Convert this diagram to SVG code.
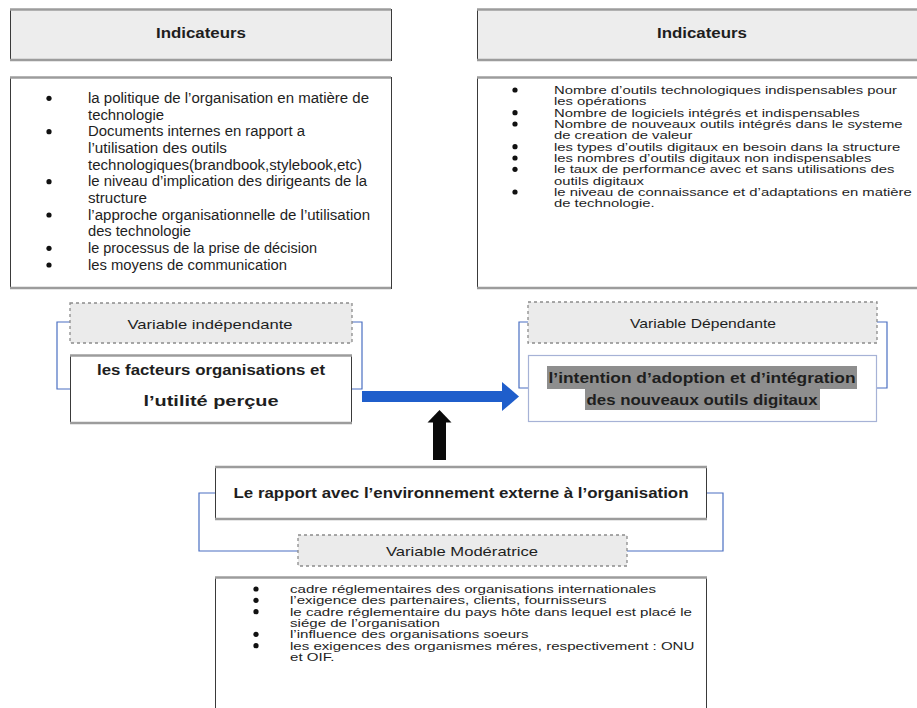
<svg xmlns="http://www.w3.org/2000/svg" width="917" height="708" viewBox="0 0 917 708">
<style>
text{font-family:"Liberation Sans",Arial,sans-serif;fill:#1e1e1e}
.b{font-weight:bold}
.f14{font-size:14px}
.f11{font-size:11px}
.f13{font-size:13px}
.f15{font-size:15px}
.m{text-anchor:middle}
.hdr{fill:#ededed;stroke:#3a3a3a;stroke-width:1}
.box{fill:#ffffff;stroke:#3a3a3a;stroke-width:1}
.sh{stroke:#9c9c9c;stroke-width:2.5;fill:none}
.dash{fill:#ebebeb;stroke:#8c8c8c;stroke-width:1.3;stroke-dasharray:3 3}
.brk{fill:none;stroke:#4a6fc2;stroke-width:1.2}
.bul{fill:#111}
.hl{fill:#8e8e8e}
</style>
<defs>
<circle id="dot" r="2.6" class="bul"/>
</defs>

<!-- connectors -->
<g id="connectors">
  <polyline class="brk" points="70,322 57,322 57,389 70,389"/>
  <polyline class="brk" points="352,322 362,322 362,389 352,389"/>
  <polyline class="brk" points="528,322 519,322 519,388 528,388"/>
  <polyline class="brk" points="877,322 887,322 887,388 877,388"/>
  <polyline class="brk" points="215,493 199,493 199,551 298,551"/>
  <polyline class="brk" points="707,493 723,493 723,551 627,551"/>
  <rect x="362" y="391" width="141" height="11" fill="#1f5ecb"/>
  <polygon points="502,382 519,396.5 502,411" fill="#1f5ecb"/>
  <polygon points="439.5,410 427.5,422.5 451.5,422.5" fill="#0a0a0a"/>
  <rect x="433" y="422" width="13" height="38" fill="#0a0a0a"/>
</g>

<g id="hdr-left">
  <rect class="hdr" x="10.5" y="9.5" width="381" height="51"/>
  <line class="sh" x1="10" y1="9.5" x2="391" y2="9.5"/>
  <line class="sh" x1="10" y1="60" x2="391" y2="60"/>
  <text class="b f14 m" x="201" y="38" textLength="90" lengthAdjust="spacingAndGlyphs">Indicateurs</text>
</g>

<g id="hdr-right">
  <rect class="hdr" x="477.5" y="9.5" width="445" height="51"/>
  <line class="sh" x1="477" y1="9.5" x2="917" y2="9.5"/>
  <line class="sh" x1="477" y1="60" x2="917" y2="60"/>
  <text class="b f14 m" x="702" y="38" textLength="90" lengthAdjust="spacingAndGlyphs">Indicateurs</text>
</g>

<g id="ind-left">
  <rect class="box" x="10.5" y="77.5" width="381" height="211"/>
  <line class="sh" x1="10" y1="77.5" x2="391" y2="77.5"/>
  <line class="sh" x1="10" y1="288" x2="391" y2="288"/>
  <use href="#dot" x="49" y="98.3"/>
  <use href="#dot" x="49" y="131.7"/>
  <use href="#dot" x="49" y="181.7"/>
  <use href="#dot" x="49" y="215"/>
  <use href="#dot" x="49" y="248.3"/>
  <use href="#dot" x="49" y="265"/>
  <text class="f14" x="88" y="102.8" textLength="281" lengthAdjust="spacingAndGlyphs">la politique de l’organisation en matière de</text>
  <text class="f14" x="88" y="119.5" textLength="76" lengthAdjust="spacingAndGlyphs">technologie</text>
  <text class="f14" x="88" y="136.1" textLength="217" lengthAdjust="spacingAndGlyphs">Documents internes en rapport a</text>
  <text class="f14" x="88" y="152.8" textLength="139" lengthAdjust="spacingAndGlyphs">l’utilisation des outils</text>
  <text class="f14" x="88" y="169.5" textLength="274" lengthAdjust="spacingAndGlyphs">technologiques(brandbook,stylebook,etc)</text>
  <text class="f14" x="88" y="186.1" textLength="279" lengthAdjust="spacingAndGlyphs">le niveau d’implication des dirigeants de la</text>
  <text class="f14" x="88" y="202.8" textLength="59" lengthAdjust="spacingAndGlyphs">structure</text>
  <text class="f14" x="88" y="219.5" textLength="282" lengthAdjust="spacingAndGlyphs">l’approche organisationnelle de l’utilisation</text>
  <text class="f14" x="88" y="236.1" textLength="103" lengthAdjust="spacingAndGlyphs">des technologie</text>
  <text class="f14" x="88" y="252.8" textLength="229" lengthAdjust="spacingAndGlyphs">le processus de la prise de décision</text>
  <text class="f14" x="88" y="269.5" textLength="199" lengthAdjust="spacingAndGlyphs">les moyens de communication</text>
</g>

<g id="ind-right">
  <rect class="box" x="477.5" y="77.5" width="445" height="211"/>
  <line class="sh" x1="477" y1="77.5" x2="917" y2="77.5"/>
  <line class="sh" x1="477" y1="288" x2="917" y2="288"/>
  <use href="#dot" x="515" y="90"/>
  <use href="#dot" x="515" y="112.7"/>
  <use href="#dot" x="515" y="124"/>
  <use href="#dot" x="515" y="146.7"/>
  <use href="#dot" x="515" y="158"/>
  <use href="#dot" x="515" y="169.3"/>
  <use href="#dot" x="515" y="192"/>
  <g transform="translate(554,0) scale(1.35,1)">
    <text class="f11" x="0" y="94">Nombre d’outils technologiques indispensables pour</text>
    <text class="f11" x="0" y="105.3">les opérations</text>
    <text class="f11" x="0" y="116.7">Nombre de logiciels intégrés et indispensables</text>
    <text class="f11" x="0" y="128">Nombre de nouveaux outils intégrés dans le systeme</text>
    <text class="f11" x="0" y="139.3">de creation de valeur</text>
    <text class="f11" x="0" y="150.7">les types d’outils digitaux en besoin dans la structure</text>
    <text class="f11" x="0" y="162">les nombres d’outils digitaux non indispensables</text>
    <text class="f11" x="0" y="173.3">le taux de performance avec et sans utilisations des</text>
    <text class="f11" x="0" y="184.7">outils digitaux</text>
    <text class="f11" x="0" y="196">le niveau de connaissance et d’adaptations en matière</text>
    <text class="f11" x="0" y="207.3">de technologie.</text>
  </g>
</g>

<g id="var-indep">
  <rect class="dash" x="70" y="303" width="282" height="40"/>
  <text class="f13 m" x="210" y="328.5" textLength="165" lengthAdjust="spacingAndGlyphs">Variable indépendante</text>
</g>

<g id="facteurs">
  <rect class="box" x="70.5" y="355.5" width="281" height="67"/>
  <line class="sh" x1="70" y1="355.5" x2="352" y2="355.5"/>
  <line class="sh" x1="70" y1="423" x2="352" y2="423"/>
  <text class="b f15 m" x="211" y="375" textLength="228" lengthAdjust="spacingAndGlyphs">les facteurs organisations et</text>
  <text class="b f15 m" x="211" y="406" textLength="135" lengthAdjust="spacingAndGlyphs">l’utilité perçue</text>
</g>

<g id="var-dep">
  <rect class="dash" x="528" y="302" width="349" height="41"/>
  <text class="f13 m" x="703" y="327.5" textLength="146" lengthAdjust="spacingAndGlyphs">Variable Dépendante</text>
</g>

<g id="intention">
  <rect x="528.5" y="355.5" width="348" height="66" fill="#ffffff" stroke="#a6b2d6" stroke-width="1.2"/>
  <rect class="hl" x="547" y="366" width="310" height="23"/>
  <rect class="hl" x="585" y="389" width="235" height="21"/>
  <text class="b f15 m" x="702" y="383" textLength="307" lengthAdjust="spacingAndGlyphs">l’intention d’adoption et d’intégration</text>
  <text class="b f15 m" x="702" y="404.5" textLength="231" lengthAdjust="spacingAndGlyphs">des nouveaux outils digitaux</text>
</g>

<g id="rapport">
  <rect class="box" x="215.5" y="467.5" width="491" height="51"/>
  <line class="sh" x1="215" y1="467" x2="707" y2="467"/>
  <line class="sh" x1="215" y1="519" x2="707" y2="519"/>
  <text class="b f15 m" x="461" y="498" textLength="455" lengthAdjust="spacingAndGlyphs">Le rapport avec l’environnement externe à l’organisation</text>
</g>

<g id="var-mod">
  <rect class="dash" x="298" y="535" width="329" height="31"/>
  <text class="f13 m" x="462" y="555.5" textLength="152" lengthAdjust="spacingAndGlyphs">Variable Modératrice</text>
</g>

<g id="ind-bottom">
  <rect class="box" x="215.5" y="577.5" width="491" height="140"/>
  <line class="sh" x1="215" y1="577.5" x2="707" y2="577.5"/>
  <use href="#dot" x="256" y="589"/>
  <use href="#dot" x="256" y="600.3"/>
  <use href="#dot" x="256" y="611.7"/>
  <use href="#dot" x="256" y="634.3"/>
  <use href="#dot" x="256" y="645.7"/>
  <g transform="translate(290,0) scale(1.37,1)">
    <text class="f11" x="0" y="593">cadre réglementaires des organisations internationales</text>
    <text class="f11" x="0" y="604.3">l’exigence des partenaires, clients, fournisseurs</text>
    <text class="f11" x="0" y="615.7">le cadre réglementaire du pays hôte dans lequel est placé le</text>
    <text class="f11" x="0" y="627">siége de l’organisation</text>
    <text class="f11" x="0" y="638.3">l’influence des organisations soeurs</text>
    <text class="f11" x="0" y="649.7">les exigences des organismes méres, respectivement : ONU</text>
    <text class="f11" x="0" y="661">et OIF.</text>
  </g>
</g>
</svg>
